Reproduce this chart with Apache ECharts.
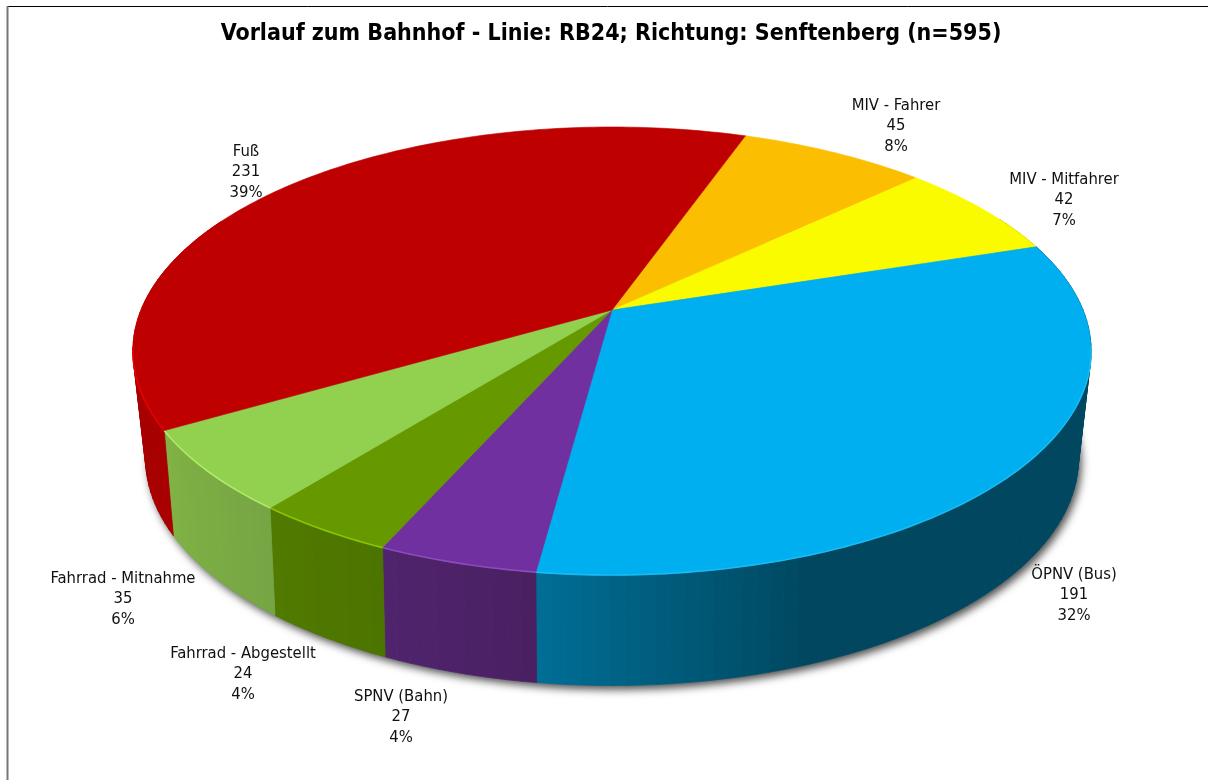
<!DOCTYPE html>
<html>
<head>
<meta charset="utf-8" />
<title>Vorlauf zum Bahnhof</title>
<style>
  html, body { margin: 0; padding: 0; background: #fff; }
  #chart { width: 1208px; height: 780px; }
</style>
<script src="https://cdn.jsdelivr.net/npm/echarts@6/dist/echarts.min.js"></script>
</head>
<body>
<div id="chart"></div>
<script>
// Werte aus dem Diagramm (im Uhrzeigersinn, beginnend bei MIV - Fahrer)
const categories = ["MIV - Fahrer", "MIV - Mitfahrer", "ÖPNV (Bus)", "SPNV (Bahn)", "Fahrrad - Abgestellt", "Fahrrad - Mitnahme", "Fuß"];
const counts = [45, 42, 191, 27, 24, 35, 231];
const percents = ["8%", "7%", "32%", "4%", "4%", "6%", "39%"];
const titleText = "Vorlauf zum Bahnhof - Linie: RB24; Richtung: Senftenberg (n=595)";

// Farben je Segment
const topColors = ["#FCBE00", "#FBFB00", "#00AFEF", "#7030A0", "#669900", "#92D050", "#BF0000"];
const rimColors = ["#FCBE00", "#FBFB00", "#1ABBF3", "#8A4CBC", "#8CC400", "#B0EA68", "#E80000"];
const wallFrom = ["#A67D00", "#A6A600", "#00475F", "#4A2062", "#4C7400", "#76A544", "#A80000"];
const wallTo = ["#A67D00", "#A6A600", "#006E96", "#50246E", "#517A00", "#80B244", "#A80000"];

// Beschriftung: Mitte x / y je Segment
const labelX = [896, 1064, 1074, 401, 243, 123, 246];
const labelY = [126, 200, 595, 717, 674, 599, 172];

const START_ANGLE = 19.4;
const TOTAL = counts.reduce((a, b) => a + b, 0);
const FONT = "'DejaVu Sans Condensed', 'DejaVu Sans', sans-serif";
const FADE_SPAN = 28; // Grad, über die der Mantel zum linken Rand heller wird

// perspektivische Abbildung der Kreisscheibe (oben / unten)
const topDisc = { cx: 612, cy: 310, bx: 471, ay: 216.5, k: 0.183 };
const bottomDisc = { cx: 612, cy: 413, bx: 457, ay: 218, k: 0.2 };

function project(disc, deg) {
  const rad = (deg * Math.PI) / 180;
  const px = Math.sin(rad);
  const py = -Math.cos(rad);
  const w = 1 - disc.k * py;
  return [disc.cx + (disc.bx * px) / w, disc.cy + (disc.ay * py) / w];
}

function sliceRange(index) {
  let before = 0;
  for (let i = 0; i < index; i++) before += counts[i];
  const start = START_ANGLE + (before / TOTAL) * 360;
  return [start, start + (counts[index] / TOTAL) * 360];
}

function mixColor(c1, c2, t) {
  const a = parseInt(c1.slice(1), 16);
  const b = parseInt(c2.slice(1), 16);
  const ch = (s) => Math.round(((a >> s) & 255) + (((b >> s) & 255) - ((a >> s) & 255)) * t);
  return "rgb(" + ch(16) + "," + ch(8) + "," + ch(0) + ")";
}

function arcPoints(disc, start, end) {
  const pts = [];
  const n = Math.max(2, Math.ceil(end - start));
  for (let i = 0; i <= n; i++) pts.push(project(disc, start + ((end - start) * i) / n));
  return pts;
}

// Schatten unter der Scheibe
function renderShadow(params) {
  if (params.dataIndex !== 0) return;
  return {
    type: "polygon",
    shape: { points: arcPoints(bottomDisc, 0, 360) },
    style: {
      fill: "#888",
      shadowBlur: 8,
      shadowColor: "rgba(0,0,0,0.7)",
      shadowOffsetX: 3,
      shadowOffsetY: 4,
    },
  };
}

// Mantelfläche als schmale Streifen, damit die Kontur stimmt
function renderWall(params, api) {
  const i = params.dataIndex;
  api.value(0);
  const [start, end] = sliceRange(i);
  const fadeStart = Math.max(start, end - FADE_SPAN);
  const strips = [];
  const n = Math.ceil((end - start) / 1.5);
  for (let s = 0; s < n; s++) {
    const a = start + ((end - start) * s) / n;
    const b = start + ((end - start) * (s + 1)) / n;
    const mid = (a + b) / 2;
    if (-Math.cos((mid * Math.PI) / 180) < -0.45) continue;
    const t = Math.min(1, Math.max(0, (mid - fadeStart) / (end - fadeStart)));
    const col = mixColor(wallFrom[i], wallTo[i], t);
    strips.push({
      type: "polygon",
      shape: {
        points: [project(topDisc, a), project(topDisc, b), project(bottomDisc, b), project(bottomDisc, a)],
      },
      style: { fill: col, stroke: col, lineWidth: 0.8 },
    });
  }
  return { type: "group", children: strips };
}

// Deckfläche mit heller Kante
function renderTop(params, api) {
  const i = params.dataIndex;
  api.value(0);
  const [start, end] = sliceRange(i);
  const arc = arcPoints(topDisc, start, end);
  const children = [
    {
      type: "polygon",
      shape: { points: [[topDisc.cx, topDisc.cy]].concat(arc) },
      style: { fill: topColors[i], stroke: topColors[i], lineWidth: 0.6 },
    },
  ];
  const rim = arc.filter((p) => p[1] > 345);
  if (rim.length > 1) {
    children.push({
      type: "polyline",
      shape: { points: rim },
      style: { fill: null, stroke: rimColors[i], lineWidth: 1.6 },
    });
  }
  children.push({
    type: "text",
    style: {
      x: labelX[i],
      y: labelY[i],
      text: categories[i] + "\n" + counts[i] + "\n" + percents[i],
      font: "16.5px " + FONT,
      fill: "#111",
      align: "center",
      verticalAlign: "middle",
      lineHeight: 20.5,
    },
  });
  return { type: "group", children: children };
}

const pieData = counts.map((v) => [v]);
const chart = echarts.init(document.getElementById("chart"), null, { renderer: "canvas" });

chart.setOption({
  animation: false,
  backgroundColor: "#fff",
  title: {
    text: titleText,
    left: 606,
    top: 18,
    textAlign: "center",
    textStyle: { color: "#000", fontWeight: "bold", fontSize: 23, fontFamily: FONT },
  },
  graphic: [
    { type: "line", shape: { x1: 7, y1: 6.5, x2: 1208, y2: 6.5 }, style: { stroke: "#000", lineWidth: 1 } },
    { type: "line", shape: { x1: 7.5, y1: 6, x2: 7.5, y2: 780 }, style: { stroke: "#777", lineWidth: 2 } },
  ],
  series: [
    { type: "custom", coordinateSystem: "none", z: 1, silent: true, data: pieData, renderItem: renderShadow },
    { type: "custom", coordinateSystem: "none", z: 2, silent: true, data: pieData, renderItem: renderWall },
    { type: "custom", coordinateSystem: "none", z: 3, silent: true, data: pieData, renderItem: renderTop },
  ],
});
</script>
</body>
</html>
